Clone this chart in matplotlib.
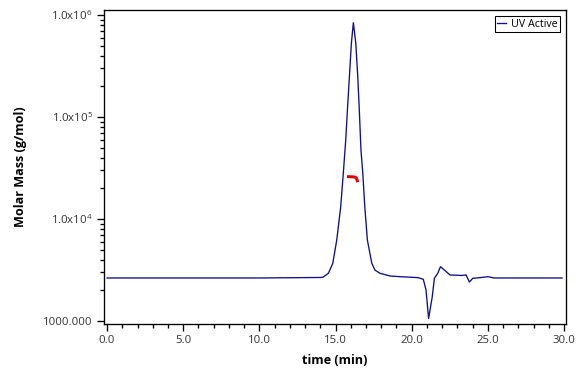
import matplotlib
matplotlib.use("Agg")
import matplotlib.pyplot as plt
from matplotlib.ticker import FixedLocator, FuncFormatter, MultipleLocator, LogLocator, NullFormatter

# UV Active trace (time in min, molar mass in g/mol)
uv_time = [0.0, 10.0, 14.0, 14.18, 14.53, 14.82, 15.08, 15.34, 15.51, 15.67, 15.78,
           15.91, 16.04, 16.17, 16.33, 16.46, 16.56, 16.67, 16.79, 16.92, 17.09,
           17.38, 17.59, 17.92, 18.58, 19.23, 20.42, 20.76, 20.94, 21.11, 21.35, 21.49,
           21.71, 21.89, 22.14, 22.52, 23.28, 23.57, 23.79, 24.01, 24.49, 25.01,
           25.41, 29.87]
uv_mass = [2640, 2640, 2670, 2685, 2935, 3680, 6220, 13200, 28050, 59500, 117100,
           248000, 528000, 840000, 528000, 248000, 117100, 47400, 28050, 13200, 6220,
           3680, 3150, 2935, 2760, 2720, 2660, 2565, 2014, 1058, 1730, 2622,
           2935, 3405, 3162, 2825, 2795, 2825, 2410, 2622, 2660, 2720,
           2640, 2640]

# Molar mass segment (red)
mm_time = [15.85, 16.0, 16.15, 16.3, 16.38, 16.43]
mm_mass = [26000, 25950, 25900, 25700, 25000, 23700]

x_ticks = [0, 5, 10, 15, 20, 25, 30]
y_ticks = [1e3, 1e4, 1e5, 1e6]
y_labels = ["1000.000", r"1.0x10$^{4}$", r"1.0x10$^{5}$", r"1.0x10$^{6}$"]

plt.rcParams['font.family'] = ['Open Sans', 'DejaVu Sans']
plt.rcParams['mathtext.fontset'] = 'custom'
plt.rcParams['mathtext.rm'] = 'Open Sans'

fig = plt.figure(figsize=(6, 4), dpi=96)
ax = fig.add_axes([104/576, 1-324/384, (566-104)/576, (324-10)/384])

ax.plot(uv_time, uv_mass, color='#10108a', lw=1.0, label='UV Active')
ax.plot(mm_time, mm_mass, color='#e00000', lw=2.2)

ax.set_yscale('log')
ax.set_xlim(-0.2, 30.13)
ax.set_ylim(934, 1.12e6)

ax.xaxis.set_major_locator(FixedLocator(x_ticks))
ax.xaxis.set_major_formatter(FuncFormatter(lambda v, p: f"{v:.1f}"))
ax.xaxis.set_minor_locator(MultipleLocator(1.0))
ax.yaxis.set_major_locator(FixedLocator(y_ticks))
ax.yaxis.set_major_formatter(FuncFormatter(lambda v, p: y_labels[y_ticks.index(v)] if v in y_ticks else ""))
ax.yaxis.set_minor_locator(LogLocator(base=10, subs=range(2, 10)))
ax.yaxis.set_minor_formatter(NullFormatter())

ax.tick_params(which='major', direction='out', length=5, width=1, labelsize=8.5, labelcolor='#333333')
ax.tick_params(which='minor', direction='out', length=3, width=1)
for s in ax.spines.values():
    s.set_linewidth(1.0)

ax.set_xlabel('time (min)', fontsize=9.5, fontweight='bold', labelpad=6)
ax.set_ylabel('Molar Mass (g/mol)', fontsize=9.5, fontweight='bold', labelpad=12)

leg = ax.legend(loc='upper right', fontsize=8, handlelength=0.8, handletextpad=0.5,
                fancybox=False, framealpha=1, edgecolor='black', borderpad=0.2,
                borderaxespad=0.6)
leg.get_frame().set_linewidth(0.8)

fig.savefig('out.png', dpi=96)
